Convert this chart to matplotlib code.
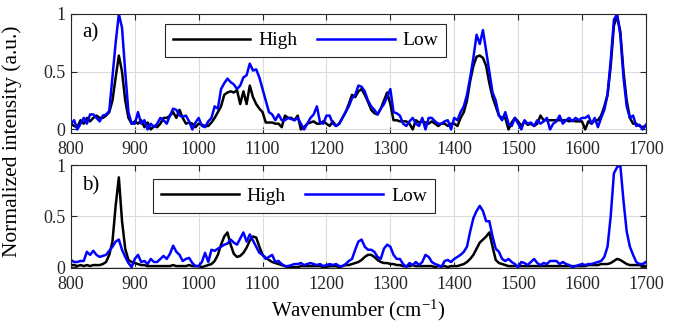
import numpy as np
import matplotlib
matplotlib.use("Agg")
import matplotlib.pyplot as plt

plt.rcParams['font.family'] = ['Liberation Serif', 'DejaVu Serif']
plt.rcParams['mathtext.default'] = 'regular'

wavenumber = np.arange(800, 1705, 5)

# panel a)
high_a = [0.05, 0.03, 0.02, 0.08, 0.05, 0.10, 0.07, 0.10, 0.12, 0.10,
          0.10, 0.12, 0.15, 0.25, 0.45, 0.64, 0.50, 0.25, 0.10, 0.05,
          0.07, 0.05, 0.08, 0.02, 0.06, 0.00, 0.03, 0.02, 0.05, 0.10,
          0.10, 0.12, 0.15, 0.10, 0.17, 0.10, 0.05, 0.06, 0.05, 0.02,
          0.05, 0.04, 0.03, 0.03, 0.06, 0.10, 0.15, 0.20, 0.30, 0.32,
          0.33, 0.32, 0.34, 0.22, 0.33, 0.22, 0.38, 0.28, 0.22, 0.18,
          0.15, 0.06, 0.06, 0.06, 0.05, 0.05, 0.02, 0.12, 0.10, 0.10,
          0.08, 0.12, 0.00, 0.02, 0.05, 0.06, 0.07, 0.05, 0.05, 0.07,
          0.05, 0.03, 0.07, 0.03, 0.05, 0.10, 0.15, 0.22, 0.30, 0.28,
          0.33, 0.35, 0.30, 0.24, 0.17, 0.14, 0.13, 0.18, 0.25, 0.32,
          0.22, 0.08, 0.08, 0.07, 0.07, 0.07, 0.05, 0.00, 0.08, 0.06,
          0.07, 0.06, 0.05, 0.07, 0.05, 0.03, 0.05, 0.05, 0.03, 0.05,
          0.05, 0.03, 0.10, 0.15, 0.25, 0.42, 0.55, 0.63, 0.64, 0.62,
          0.55, 0.40, 0.28, 0.20, 0.12, 0.10, 0.10, 0.00, 0.06, 0.10,
          0.07, 0.03, 0.07, 0.04, 0.05, 0.03, 0.05, 0.12, 0.08, 0.08,
          0.08, 0.08, 0.08, 0.08, 0.08, 0.08, 0.07, 0.08, 0.07, 0.07,
          0.07, 0.00, 0.07, 0.05, 0.08, 0.08, 0.12, 0.20, 0.30, 0.55,
          0.90, 0.98, 0.85, 0.50, 0.25, 0.10, 0.05, 0.05, 0.03, 0.02,
          0.03]
low_a = [0.05, 0.08, 0.00, 0.05, 0.10, 0.05, 0.13, 0.13, 0.10, 0.07,
         0.12, 0.13, 0.16, 0.45, 0.75, 1.00, 0.88, 0.50, 0.15, 0.05,
         0.05, 0.15, 0.05, 0.08, 0.00, 0.05, 0.02, 0.05, 0.10, 0.08,
         0.05, 0.12, 0.18, 0.17, 0.12, 0.11, 0.12, 0.07, 0.00, 0.06,
         0.10, 0.03, 0.02, 0.07, 0.10, 0.20, 0.18, 0.35, 0.40, 0.44,
         0.41, 0.39, 0.35, 0.38, 0.45, 0.47, 0.57, 0.51, 0.52, 0.45,
         0.35, 0.25, 0.15, 0.13, 0.08, 0.13, 0.08, 0.08, 0.10, 0.09,
         0.08, 0.10, 0.05, 0.00, 0.05, 0.10, 0.13, 0.20, 0.06, 0.05,
         0.12, 0.12, 0.05, 0.03, 0.05, 0.10, 0.15, 0.20, 0.27, 0.30,
         0.38, 0.37, 0.33, 0.25, 0.20, 0.17, 0.13, 0.18, 0.22, 0.28,
         0.35, 0.15, 0.14, 0.12, 0.05, 0.03, 0.07, 0.10, 0.05, 0.03,
         0.10, 0.00, 0.10, 0.10, 0.07, 0.05, 0.05, 0.07, 0.08, 0.00,
         0.10, 0.08, 0.15, 0.20, 0.30, 0.45, 0.62, 0.82, 0.74, 0.86,
         0.68, 0.50, 0.32, 0.25, 0.12, 0.08, 0.15, 0.05, 0.03, 0.10,
         0.05, 0.00, 0.08, 0.05, 0.06, 0.03, 0.08, 0.05, 0.07, 0.10,
         0.00, 0.05, 0.07, 0.12, 0.05, 0.08, 0.10, 0.07, 0.10, 0.08,
         0.10, 0.10, 0.12, 0.05, 0.10, 0.02, 0.10, 0.17, 0.30, 0.60,
         0.95, 1.00, 0.82, 0.45, 0.20, 0.10, 0.12, 0.03, 0.04, 0.00,
         0.04]

# panel b)
high_b = [0.02, 0.02, 0.01, 0.02, 0.01, 0.02, 0.01, 0.02, 0.02, 0.02,
          0.03, 0.05, 0.12, 0.25, 0.60, 0.88, 0.45, 0.18, 0.07, 0.05,
          0.04, 0.03, 0.02, 0.02, 0.01, 0.01, 0.01, 0.01, 0.01, 0.01,
          0.01, 0.01, 0.02, 0.01, 0.01, 0.01, 0.01, 0.02, 0.01, 0.01,
          0.01, 0.00, 0.01, 0.02, 0.03, 0.06, 0.12, 0.22, 0.30, 0.34,
          0.22, 0.13, 0.10, 0.11, 0.14, 0.19, 0.26, 0.30, 0.29, 0.20,
          0.12, 0.09, 0.07, 0.05, 0.04, 0.03, 0.02, 0.01, 0.00, 0.00,
          0.00, 0.00, 0.01, 0.01, 0.01, 0.01, 0.01, 0.01, 0.01, 0.00,
          0.00, 0.01, 0.01, 0.01, 0.00, 0.01, 0.02, 0.02, 0.03, 0.04,
          0.05, 0.07, 0.10, 0.12, 0.12, 0.10, 0.07, 0.05, 0.04, 0.04,
          0.03, 0.03, 0.02, 0.02, 0.01, 0.01, 0.01, 0.02, 0.01, 0.01,
          0.01, 0.01, 0.01, 0.01, 0.00, 0.01, 0.01, 0.01, 0.00, 0.01,
          0.01, 0.01, 0.02, 0.03, 0.05, 0.08, 0.12, 0.18, 0.24, 0.27,
          0.30, 0.34, 0.20, 0.07, 0.04, 0.03, 0.02, 0.01, 0.01, 0.01,
          0.01, 0.01, 0.01, 0.01, 0.01, 0.01, 0.01, 0.01, 0.01, 0.01,
          0.01, 0.01, 0.01, 0.01, 0.01, 0.01, 0.01, 0.01, 0.01, 0.01,
          0.01, 0.01, 0.02, 0.02, 0.02, 0.02, 0.03, 0.03, 0.03, 0.04,
          0.06, 0.08, 0.07, 0.05, 0.03, 0.02, 0.02, 0.02, 0.02, 0.01,
          0.01]
low_b = [0.07, 0.05, 0.05, 0.06, 0.06, 0.15, 0.12, 0.16, 0.12, 0.10,
         0.11, 0.12, 0.16, 0.20, 0.25, 0.27, 0.17, 0.10, 0.04, 0.00,
         0.08, 0.12, 0.05, 0.06, 0.03, 0.08, 0.05, 0.05, 0.08, 0.11,
         0.08, 0.13, 0.21, 0.15, 0.12, 0.06, 0.08, 0.09, 0.04, 0.01,
         0.01, 0.05, 0.14, 0.05, 0.17, 0.16, 0.18, 0.20, 0.22, 0.23,
         0.27, 0.24, 0.22, 0.28, 0.34, 0.25, 0.32, 0.26, 0.20, 0.14,
         0.12, 0.08, 0.10, 0.12, 0.05, 0.06, 0.03, 0.01, 0.01, 0.02,
         0.03, 0.03, 0.04, 0.02, 0.03, 0.04, 0.03, 0.02, 0.03, 0.01,
         0.02, 0.03, 0.02, 0.03, 0.01, 0.01, 0.03, 0.06, 0.08, 0.17,
         0.25, 0.27, 0.20, 0.17, 0.17, 0.15, 0.10, 0.08, 0.18, 0.22,
         0.20, 0.12, 0.08, 0.08, 0.03, 0.00, 0.04, 0.02, 0.05, 0.02,
         0.05, 0.12, 0.10, 0.05, 0.03, 0.02, 0.00, 0.06, 0.07, 0.05,
         0.08, 0.10, 0.12, 0.15, 0.20, 0.35, 0.48, 0.55, 0.60, 0.55,
         0.45, 0.45, 0.30, 0.18, 0.15, 0.08, 0.06, 0.08, 0.05, 0.03,
         0.00, 0.05, 0.04, 0.02, 0.05, 0.08, 0.04, 0.02, 0.04, 0.03,
         0.06, 0.06, 0.06, 0.03, 0.05, 0.03, 0.02, 0.00, 0.01, 0.02,
         0.03, 0.02, 0.03, 0.03, 0.04, 0.05, 0.06, 0.10, 0.20, 0.50,
         0.92, 0.98, 1.00, 0.65, 0.35, 0.20, 0.12, 0.05, 0.03, 0.03,
         0.05]

fig = plt.figure(figsize=(6.82, 3.25), dpi=100)
ax1 = fig.add_axes([0.104, 0.591, 0.843, 0.366])
ax2 = fig.add_axes([0.104, 0.175, 0.843, 0.317])

panels = [(ax1, high_a, low_a, 'a)', (0.408, 0.777), -0.03, 0.84),
          (ax2, high_b, low_b, 'b)', (0.388, 0.70), -0.01, 0.80)]

for ax, hi, lo, tag, legpos, ybot, tagy in panels:
    ax.plot(wavenumber, hi, color='black', lw=1.8, label='High')
    ax.plot(wavenumber, lo, color=(0, 0, 1), lw=1.8, label='Low')
    ax.set_xlim(800, 1700)
    ax.set_ylim(ybot, 1)
    ax.set_xticks(np.arange(800, 1701, 100))
    ax.set_yticks([0, 0.5, 1])
    ax.set_yticklabels(['0', '0.5', '1'])
    ax.grid(True, color='#dcdcdc', lw=0.8)
    ax.set_axisbelow(True)
    ax.tick_params(direction='in', top=True, right=True, labelsize=13,
                   colors='#262626', length=4)
    ax.tick_params(axis='x', pad=6)
    ax.tick_params(axis='y', pad=4)
    for s in ax.spines.values():
        s.set_color('#262626')
        s.set_linewidth(0.8)
    ax.text(0.02, tagy, tag, transform=ax.transAxes, fontsize=15,
            va='center', ha='left')
    leg = ax.legend(loc='center', bbox_to_anchor=legpos, ncol=2,
                    fontsize=14, frameon=True, fancybox=False,
                    edgecolor='#262626', framealpha=1, handlelength=4.0,
                    columnspacing=1.0, borderpad=0.4, handletextpad=0.4)
    leg.get_frame().set_linewidth(0.8)

ax2.set_xlabel('Wavenumber (cm$^{-1}$)', fontsize=15, labelpad=3)
fig.text(0.018, 0.565, 'Normalized intensity (a.u.)', rotation=90,
         fontsize=15.5, va='center', ha='center')

fig.savefig('out.png', dpi=100)
